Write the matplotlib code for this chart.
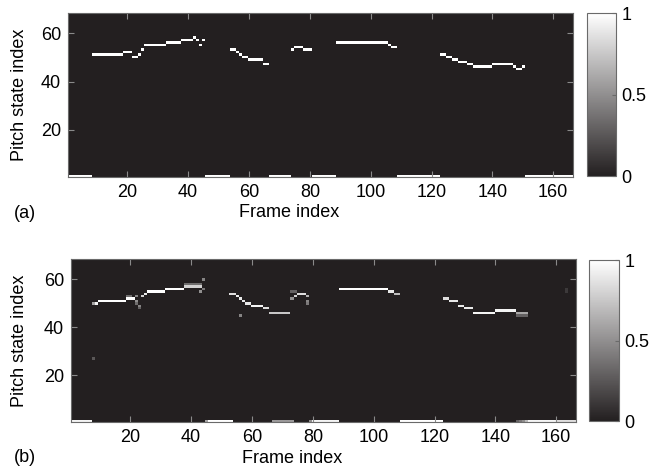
import numpy as np
import matplotlib
matplotlib.use('Agg')
import matplotlib.pyplot as plt
from matplotlib.colors import LinearSegmentedColormap

plt.rcParams['font.family'] = ['Liberation Sans', 'DejaVu Sans']
plt.rcParams['font.size'] = 13

#-----------------------------------------------------------------------------
# Dados: estados de pitch por quadro (estado 1 = sem voz)

n_frames = 166
n_states = 68

# (a) caminho decodificado: (quadro_ini, quadro_fim, estado)
path_a = [(1, 8, 1), (9, 18, 51), (19, 21, 52), (22, 23, 50), (24, 24, 51),
          (25, 25, 53), (26, 32, 55), (33, 37, 56), (38, 41, 57), (42, 42, 58),
          (43, 43, 57), (44, 44, 55), (45, 45, 57), (46, 53, 1), (54, 55, 53),
          (56, 56, 52), (57, 57, 51), (58, 59, 50), (60, 64, 49), (65, 66, 47),
          (67, 73, 1), (74, 74, 53), (75, 77, 54), (78, 80, 53), (81, 88, 1),
          (89, 105, 56), (106, 106, 55), (107, 108, 54), (109, 122, 1),
          (123, 124, 51), (125, 126, 50), (127, 128, 49), (129, 131, 48),
          (132, 133, 47), (134, 139, 46), (140, 146, 47), (147, 147, 46),
          (148, 149, 45), (150, 150, 46), (151, 166, 1)]

# (b) posteriori: (quadro_ini, quadro_fim, estado, valor)
post_b = [(1, 7, 1, 0.95), (8, 8, 50, 0.6), (9, 9, 50, 0.95), (10, 18, 51, 1.0),
          (19, 21, 52, 1.0), (19, 20, 53, 0.35), (22, 22, 53, 0.45),
          (22, 22, 51, 0.5), (22, 22, 50, 0.35), (23, 23, 49, 0.45),
          (23, 23, 48, 0.3), (24, 24, 53, 0.8), (25, 25, 54, 0.9),
          (26, 31, 55, 1.0), (32, 37, 56, 1.0), (38, 43, 57, 0.8),
          (38, 43, 58, 0.35), (43, 43, 55, 0.5), (44, 44, 56, 0.4),
          (44, 44, 60, 0.45), (45, 45, 1, 0.6), (46, 53, 1, 1.0),
          (53, 54, 54, 0.85), (55, 55, 53, 0.9), (56, 56, 52, 0.9),
          (57, 57, 51, 0.9), (58, 59, 50, 0.9), (60, 63, 49, 0.95),
          (64, 65, 48, 0.85), (66, 72, 46, 0.75), (56, 56, 45, 0.45),
          (67, 73, 1, 0.55), (73, 73, 52, 0.5), (74, 74, 53, 0.8),
          (75, 77, 54, 0.85), (73, 74, 55, 0.3), (78, 78, 53, 0.65),
          (78, 78, 51, 0.45), (78, 78, 50, 0.4), (79, 79, 1, 0.5),
          (80, 88, 1, 0.95), (89, 104, 56, 1.0), (105, 106, 55, 0.9),
          (107, 108, 54, 0.7), (109, 122, 1, 1.0), (123, 124, 52, 0.85),
          (125, 127, 51, 0.9), (128, 129, 49, 0.9), (130, 132, 48, 0.9),
          (133, 139, 46, 0.95), (140, 146, 47, 0.95), (147, 150, 46, 0.6),
          (147, 150, 45, 0.3), (147, 147, 1, 0.3), (148, 148, 1, 0.4),
          (149, 149, 1, 0.5), (150, 150, 1, 0.7), (151, 159, 1, 0.95),
          (160, 166, 1, 0.85), (8, 8, 27, 0.25), (163, 163, 55, 0.12),
          (163, 163, 56, 0.12)]

#-----------------------------------------------------------------------------
# Monta as matrizes

A = np.zeros((n_states, n_frames))
for f0, f1, s in path_a:
    A[s - 1, f0 - 1:f1] = 1.0

B = np.zeros((n_states, n_frames))
for f0, f1, s, v in post_b:
    B[s - 1, f0 - 1:f1] = np.maximum(B[s - 1, f0 - 1:f1], v)

#-----------------------------------------------------------------------------
# Plotar

cmap = LinearSegmentedColormap.from_list('cinza', ['#231f20', '#ffffff'])

fig = plt.figure(figsize=(6.68, 4.72), dpi=100)

paineis = [
    (A, [0.1018, 0.625, 0.756, 0.3475], [0.8787, 0.627, 0.0434, 0.3453], '(a)', 213, -0.079, -0.165),
    (B, [0.1063, 0.106, 0.756, 0.3453], [0.8817, 0.108, 0.0449, 0.341], '(b)', 458, -0.085, -0.172),
]

for M, pos, cpos, letra, ly, ylx, xly in paineis:
    ax = fig.add_axes(pos)
    im = ax.imshow(M, origin='lower', aspect='auto', interpolation='nearest',
                   cmap=cmap, vmin=0, vmax=1,
                   extent=[0.5, n_frames + 0.5, 0.5, n_states + 0.5])
    ax.set_xticks([20, 40, 60, 80, 100, 120, 140, 160])
    ax.set_yticks([20, 40, 60])
    ax.tick_params(direction='in', top=True, right=True, length=4,
                   color='#8a8a8a', labelsize=13, pad=5)
    for sp in ax.spines.values():
        sp.set_color('#6a6a6a')
        sp.set_linewidth(0.8)
    ax.set_xlabel('Frame index', fontsize=13)
    ax.set_ylabel('Pitch state index', fontsize=13)
    ax.xaxis.set_label_coords(0.437, xly)
    ax.yaxis.set_label_coords(ylx, 0.5)

    cax = fig.add_axes(cpos)
    cb = fig.colorbar(im, cax=cax, ticks=[0, 0.5, 1])
    cb.ax.set_yticklabels(['0', '0.5', '1'])
    cb.ax.tick_params(direction='in', length=3, color='#6a6a6a', labelsize=13, pad=4)
    cb.outline.set_edgecolor('#6a6a6a')
    cb.outline.set_linewidth(0.8)

    fig.text(14 / 668, 1 - ly / 472, letra, fontsize=13, va='center', ha='left')

plt.savefig('out.png', dpi=100)
